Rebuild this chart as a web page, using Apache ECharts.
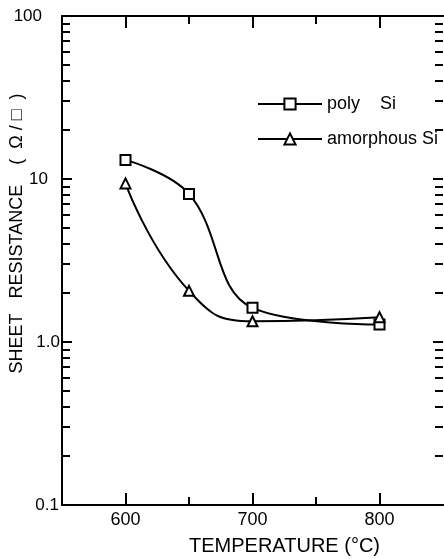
<!DOCTYPE html>
<html>
<head>
<meta charset="utf-8">
<script src="https://cdn.jsdelivr.net/npm/echarts@6/dist/echarts.min.js"></script>
<style>
  html, body { margin: 0; padding: 0; background: #fff; }
  #chart { width: 444px; height: 559px; }
</style>
</head>
<body>
<div id="chart"></div>
<script>
// Annealing temperature (°C)
const temps = [600, 650, 700, 800];
// Sheet resistance (ohm per square)
const polySi = [13.1, 8.1, 1.62, 1.28];
const amorphousSi = [9.4, 2.06, 1.34, 1.42];

const xMajorTicks = [600, 700, 800];
const xMinorTicks = [650, 750];
const yDecades = [0.1, 1, 10, 100];
const yDecadeLabels = ['0.1', '1.0', '10', '100'];
const yMinorSteps = [2, 3, 4, 5, 6, 7, 8, 9];

const FONT = "'Liberation Sans', Arial, sans-serif";

// minor log ticks: 2..9 within each decade
const yMinorTicks = [];
yDecades.slice(0, -1).forEach(d => yMinorSteps.forEach(s => yMinorTicks.push(+(d * s).toPrecision(3))));

// per-label right padding keeps each label where it sits next to the axis
const yLabelPad = { '100': 18, '10': 12, '1.0': 0, '0.1': 1 };
const yRich = {};
yDecadeLabels.forEach((t, i) => {
  yRich['l' + i] = { fontFamily: FONT, fontSize: 17, color: '#000', padding: [0, yLabelPad[t], 0, 0] };
});

const chart = echarts.init(document.getElementById('chart'), null, { renderer: 'canvas' });

function xAxisDef(position, ticks, len, extra) {
  return Object.assign({
    type: 'value', position, min: 550, max: 850,
    axisLine: { show: true, lineStyle: { color: '#000', width: 2 } },
    axisTick: { show: true, inside: true, length: len, customValues: ticks, lineStyle: { color: '#000', width: 2 } },
    axisLabel: { show: false },
    splitLine: { show: false }
  }, extra || {});
}
function yAxisDef(position, ticks, len, extra) {
  return Object.assign({
    type: 'log', logBase: 10, position, min: 0.1, max: 100,
    axisLine: { show: position === 'left', lineStyle: { color: '#000', width: 2 } },
    axisTick: { show: true, inside: true, length: len, customValues: ticks, lineStyle: { color: '#000', width: 2 } },
    axisLabel: { show: false },
    splitLine: { show: false }
  }, extra || {});
}

const option = {
  backgroundColor: '#fff',
  animation: false,
  grid: { left: 62, right: 1, top: 16, bottom: 54, containLabel: false, outerBoundsMode: 'none' },
  legend: {
    orient: 'vertical', left: 252, top: 90,
    itemWidth: 64, itemHeight: 14, itemGap: 17,
    textStyle: { fontFamily: FONT, fontSize: 18, color: '#000' },
    data: ['poly    Si', 'amorphous Si']
  },
  xAxis: [
    xAxisDef('bottom', xMajorTicks, 12, {
      name: 'TEMPERATURE (°C)', nameLocation: 'middle', nameGap: 31, nameMoveOverlap: false,
      nameTextStyle: { fontFamily: FONT, fontSize: 20, color: '#000', padding: [0, 0, 0, 64] },
      axisLabel: {
        show: true, customValues: xMajorTicks, margin: 6,
        fontFamily: FONT, fontSize: 18, color: '#000'
      }
    }),
    xAxisDef('bottom', xMinorTicks, 8),
    xAxisDef('top', xMajorTicks, 12),
    xAxisDef('top', xMinorTicks, 8)
  ],
  yAxis: [
    yAxisDef('left', yDecades, 10, {
      name: 'SHEET   RESISTANCE    (  Ω / □  )', nameLocation: 'middle', nameGap: 36, nameMoveOverlap: false,
      nameTextStyle: { fontFamily: FONT, fontSize: 18, color: '#000', padding: [0, 0, 0, 54] },
      axisLabel: {
        show: true, customValues: yDecades, margin: 2,
        formatter: v => {
          const i = yDecades.findIndex(d => Math.abs(Math.log10(d) - Math.log10(v)) < 1e-6);
          return i < 0 ? '' : '{l' + i + '|' + yDecadeLabels[i] + '}';
        },
        rich: yRich
      }
    }),
    yAxisDef('left', yMinorTicks, 8),
    yAxisDef('right', yDecades, 10),
    yAxisDef('right', yMinorTicks, 8)
  ],
  series: [
    {
      name: 'poly    Si', type: 'line', xAxisIndex: 0, yAxisIndex: 0,
      data: temps.map((t, i) => [t, polySi[i]]),
      smooth: 0.4,
      symbol: 'rect', symbolSize: 10,
      lineStyle: { color: '#000', width: 2 },
      itemStyle: { color: '#fff', borderColor: '#000', borderWidth: 2 }
    },
    {
      name: 'amorphous Si', type: 'line', xAxisIndex: 0, yAxisIndex: 0,
      data: temps.map((t, i) => [t, amorphousSi[i]]),
      smooth: 0.5,
      symbol: 'triangle', symbolSize: 10,
      lineStyle: { color: '#000', width: 2 },
      itemStyle: { color: '#fff', borderColor: '#000', borderWidth: 2 }
    }
  ]
};

chart.setOption(option);
</script>
</body>
</html>
